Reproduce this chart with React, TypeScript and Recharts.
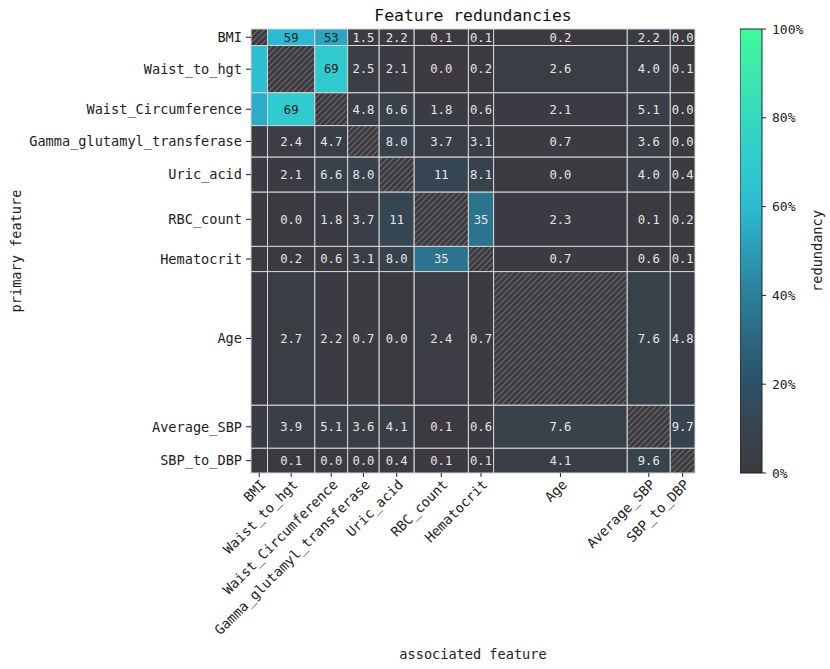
import React from 'react';
import { ComposedChart, BarChart, Bar, Scatter, XAxis, YAxis, ReferenceArea, Label } from 'recharts';

const features = [
  'BMI',
  'Waist_to_hgt',
  'Waist_Circumference',
  'Gamma_glutamyl_transferase',
  'Uric_acid',
  'RBC_count',
  'Hematocrit',
  'Age',
  'Average_SBP',
  'SBP_to_DBP'
];

// relative size of each feature's row / column
const featureSize = [16.5, 47.3, 32.8, 31.5, 35.0, 54.2, 25.2, 133.6, 43.0, 24.7];

// redundancy (%) of primary feature (row) with associated feature (column); null = itself
const rowBMI = [null, 59, 53, 1.5, 2.2, 0.1, 0.1, 0.2, 2.2, 0.0];
const rowWaistToHgt = [62, null, 69, 2.5, 2.1, 0.0, 0.2, 2.6, 4.0, 0.1];
const rowWaistCirc = [55, 69, null, 4.8, 6.6, 1.8, 0.6, 2.1, 5.1, 0.0];
const rowGGT = [1.5, 2.4, 4.7, null, 8.0, 3.7, 3.1, 0.7, 3.6, 0.0];
const rowUricAcid = [2.2, 2.1, 6.6, 8.0, null, 11, 8.1, 0.0, 4.0, 0.4];
const rowRBC = [0.1, 0.0, 1.8, 3.7, 11, null, 35, 2.3, 0.1, 0.2];
const rowHematocrit = [0.1, 0.2, 0.6, 3.1, 8.0, 35, null, 0.7, 0.6, 0.1];
const rowAge = [0.2, 2.7, 2.2, 0.7, 0.0, 2.4, 0.7, null, 7.6, 4.8];
const rowAvgSBP = [2.2, 3.9, 5.1, 3.6, 4.1, 0.1, 0.6, 7.6, null, 9.7];
const rowSBPtoDBP = [0.0, 0.1, 0.0, 0.0, 0.4, 0.1, 0.1, 4.1, 9.6, null];

const matrix = [
  rowBMI, rowWaistToHgt, rowWaistCirc, rowGGT, rowUricAcid,
  rowRBC, rowHematocrit, rowAge, rowAvgSBP, rowSBPtoDBP
];

const colorbarTicks = [0, 20, 40, 60, 80, 100];

const FONT = '"DejaVu Sans Mono", "Liberation Mono", monospace';

// colormap stops
const stops: [number, string][] = [
  [0, '#3c3a40'],
  [0.1, '#37444f'],
  [0.2, '#2e5068'],
  [0.3, '#2c6680'],
  [0.4, '#2b7f99'],
  [0.5, '#2b9cb8'],
  [0.6, '#2dbcd4'],
  [0.7, '#31cbcd'],
  [0.8, '#36d9bf'],
  [0.9, '#3ce9ac'],
  [1, '#42f99a']
];

const hex = (c: string) => [1, 3, 5].map((i) => parseInt(c.slice(i, i + 2), 16));
function colorFor(v: number) {
  const t = Math.max(0, Math.min(1, v / 100));
  for (let i = 1; i < stops.length; i++) {
    if (t <= stops[i][0]) {
      const [t0, c0] = stops[i - 1];
      const [t1, c1] = stops[i];
      const f = (t - t0) / (t1 - t0);
      const a = hex(c0);
      const b = hex(c1);
      return `rgb(${a.map((x, k) => Math.round(x + (b[k] - x) * f)).join(',')})`;
    }
  }
  return stops[stops.length - 1][1];
}

const starts: number[] = [];
let acc = 0;
featureSize.forEach((s) => {
  starts.push(acc);
  acc += s;
});
const total = acc;
const centers = featureSize.map((s, i) => starts[i] + s / 2);

// cell centres, only used so the axes have data to work with
const cellCenters = matrix.flatMap((row, r) => row.map((_, c) => ({ x: centers[c], y: centers[r] })));

const nameAt = (v: number) => {
  let best = 0;
  centers.forEach((c, i) => {
    if (Math.abs(c - v) < Math.abs(centers[best] - v)) best = i;
  });
  return features[best];
};

const fmt = (v: number) => (v >= 10 ? v.toFixed(0) : v.toFixed(1));

const XTick = (props: any) => {
  const { x, y, payload } = props;
  const ax = x + 4;
  const ay = y + 3;
  return (
    <text
      x={ax}
      y={ay}
      dy="0.35em"
      textAnchor="end"
      transform={`rotate(-45, ${ax}, ${ay})`}
      fontSize={13.6}
      fontFamily={FONT}
      fill="#222"
    >
      {nameAt(payload.value)}
    </text>
  );
};

const renderCell = (p: any, r: number, c: number) => {
  const { x, y, width, height } = p;
  const v = matrix[r][c];
  const diag = v === null;
  return (
    <g>
      <rect
        x={x}
        y={y}
        width={width}
        height={height}
        fill={diag ? 'url(#hatch)' : colorFor(v as number)}
        stroke="#d6d6d6"
        strokeWidth={1}
      />
      {!diag && width >= 20 && (
        <text
          x={x + width / 2}
          y={y + height / 2}
          dy="0.35em"
          textAnchor="middle"
          fontSize={12.2}
          fontFamily={FONT}
          fill={(v as number) > 45 ? '#1a1a1a' : '#e6e6e6'}
        >
          {fmt(v as number)}
        </text>
      )}
    </g>
  );
};

export default function App() {
  return (
    <div style={{ position: 'absolute', left: 0, top: 0, width: 830, height: 669, background: '#fff' }}>
      <svg width={0} height={0} style={{ position: 'absolute' }}>
        <defs>
          <pattern id="hatch" width={6} height={6} patternUnits="userSpaceOnUse">
            <rect width={6} height={6} fill="#3c3a40" />
            <path d="M-1,1 l2,-2 M0,6 l6,-6 M5,7 l2,-2" stroke="#6c6c6c" strokeWidth={1.1} />
          </pattern>
          <linearGradient id="cbarGrad" x1="0" y1="1" x2="0" y2="0">
            {stops.map(([t, c]) => (
              <stop key={t} offset={`${t * 100}%`} stopColor={c} />
            ))}
          </linearGradient>
        </defs>
      </svg>

      <div
        style={{
          position: 'absolute',
          left: 273,
          width: 400,
          top: 6,
          lineHeight: '20px',
          textAlign: 'center',
          fontFamily: FONT,
          fontSize: 16.4,
          color: '#111'
        }}
      >
        Feature redundancies
      </div>

      <div style={{ position: 'absolute', left: 0, top: 0 }}>
        <ComposedChart width={830} height={669} margin={{ top: 29, right: 135, bottom: 0, left: 0 }}>
          <XAxis
            type="number"
            dataKey="x"
            domain={[0, total]}
            allowDataOverflow
            ticks={centers}
            interval={0}
            height={196}
            tickSize={4}
            axisLine={false}
            tickLine={{ stroke: '#222' }}
            tick={<XTick />}
          >
            <Label
              content={({ viewBox }: any) => (
                <text
                  x={viewBox.x + viewBox.width / 2}
                  y={654}
                  dy="0.35em"
                  textAnchor="middle"
                  fontSize={13.6}
                  fontFamily={FONT}
                  fill="#222"
                >
                  associated feature
                </text>
              )}
            />
          </XAxis>
          <YAxis
            type="number"
            dataKey="y"
            domain={[0, total]}
            allowDataOverflow
            reversed
            ticks={centers}
            interval={0}
            width={251}
            tickSize={5}
            tickMargin={4}
            axisLine={false}
            tickLine={{ stroke: '#222' }}
            tickFormatter={nameAt}
            tick={{ fontSize: 13.6, fontFamily: FONT, fill: '#222' }}
          >
            <Label
              content={({ viewBox }: any) => {
                const cx = 16;
                const cy = viewBox.y + viewBox.height / 2;
                return (
                  <text
                    x={cx}
                    y={cy}
                    dy="0.35em"
                    textAnchor="middle"
                    transform={`rotate(-90, ${cx}, ${cy})`}
                    fontSize={13.6}
                    fontFamily={FONT}
                    fill="#222"
                  >
                    primary feature
                  </text>
                );
              }}
            />
          </YAxis>
          <Scatter data={cellCenters} shape={() => <g />} isAnimationActive={false} />
          {matrix.map((row, r) =>
            row.map((_, c) => (
              <ReferenceArea
                key={`${r}-${c}`}
                x1={starts[c]}
                x2={starts[c] + featureSize[c]}
                y1={starts[r]}
                y2={starts[r] + featureSize[r]}
                ifOverflow="visible"
                shape={(p: any) => renderCell(p, r, c)}
              />
            ))
          )}
        </ComposedChart>
      </div>

      <div style={{ position: 'absolute', left: 740, top: 0 }}>
        <BarChart
          width={90}
          height={669}
          data={[{ name: 'redundancy', v: 100 }]}
          margin={{ top: 29, right: 0, bottom: 196, left: 0 }}
          barCategoryGap={0}
        >
          <XAxis dataKey="name" hide />
          <YAxis
            orientation="right"
            type="number"
            domain={[0, 100]}
            ticks={colorbarTicks}
            interval={0}
            width={68}
            tickSize={4}
            tickMargin={6}
            axisLine={false}
            tickLine={{ stroke: '#222' }}
            tickFormatter={(v: number) => `${v}%`}
            tick={{ fontSize: 13, fontFamily: FONT, fill: '#222' }}
          >
            <Label
              content={({ viewBox }: any) => {
                const cx = viewBox.x + 55;
                const cy = viewBox.y + viewBox.height / 2;
                return (
                  <text
                    x={cx}
                    y={cy}
                    dy="0.35em"
                    textAnchor="middle"
                    transform={`rotate(-90, ${cx}, ${cy})`}
                    fontSize={13.6}
                    fontFamily={FONT}
                    fill="#222"
                  >
                    redundancy
                  </text>
                );
              }}
            />
          </YAxis>
          <Bar dataKey="v" fill="url(#cbarGrad)" stroke="#222" strokeWidth={1} isAnimationActive={false} />
        </BarChart>
      </div>
    </div>
  );
}
